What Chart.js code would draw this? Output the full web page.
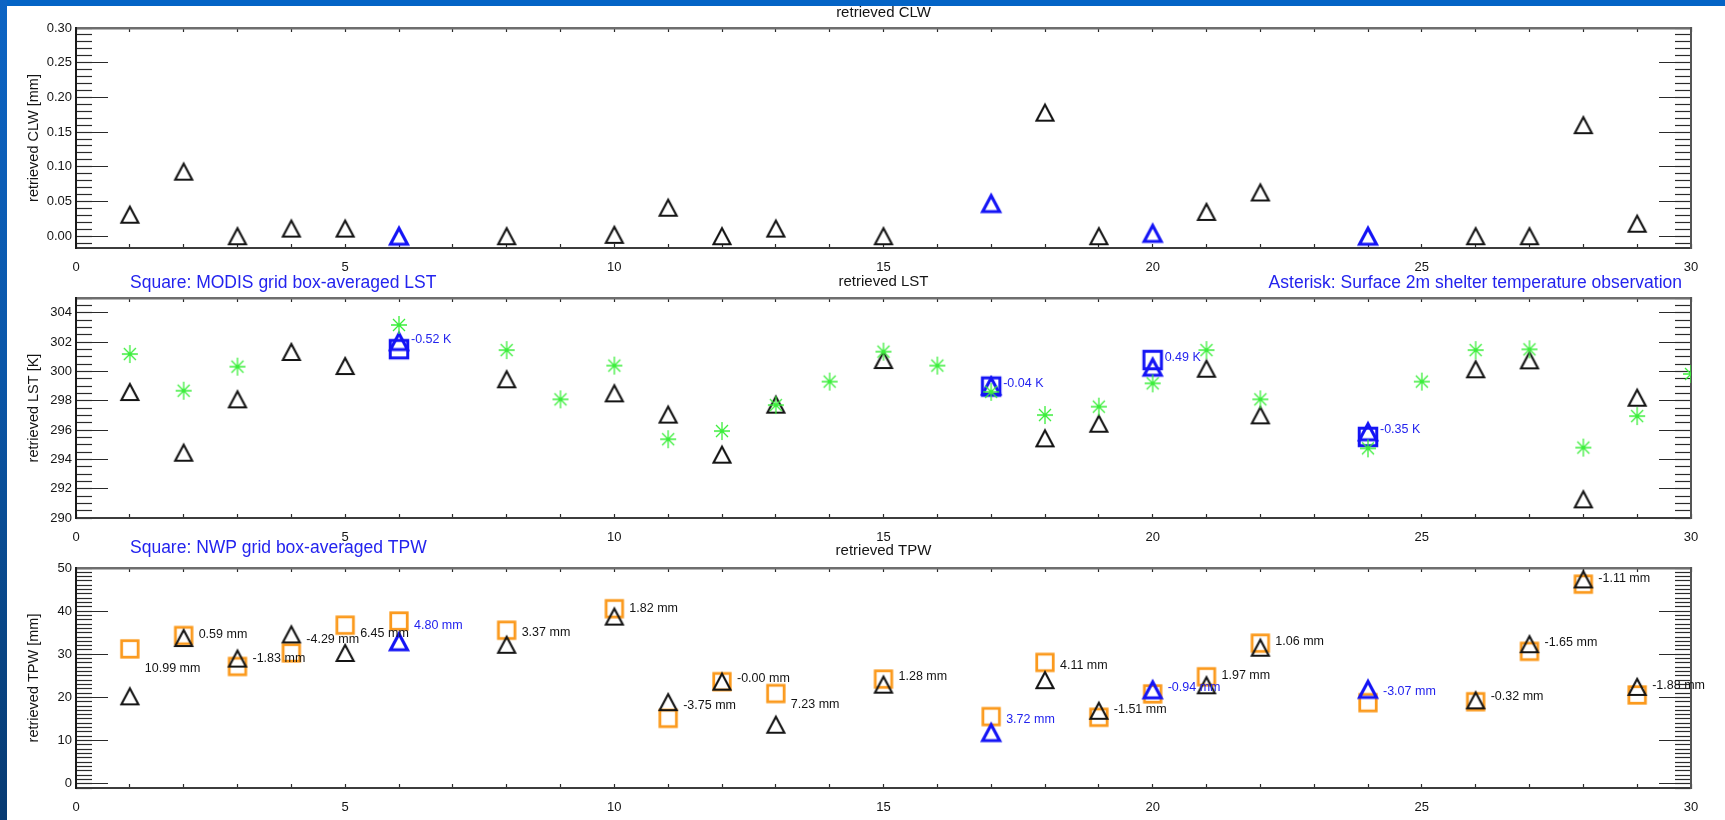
<!DOCTYPE html>
<html>
<head>
<meta charset="utf-8">
<title>Retrieved CLW, LST and TPW</title>
<script src="https://cdn.jsdelivr.net/npm/chart.js@4/dist/chart.umd.min.js"></script>
<style>
  html, body { margin: 0; padding: 0; background: #ffffff; }
  #page { position: relative; width: 1725px; height: 820px; overflow: hidden; background: #ffffff; }
  .panel { position: absolute; left: 0; width: 1725px; height: 280px; }
  .panel canvas { display: block; }
  #topband { position: absolute; left: 0; top: 0; width: 1725px; height: 6px; background: #0464c6; z-index: 5; }
  #leftband { position: absolute; left: 0; top: 0; width: 7px; height: 820px; z-index: 5;
              background: linear-gradient(#0c64c4, #0a56a8 45%, #084483 80%, #073a72); }
</style>
</head>
<body>
<div id="page">
  <div class="panel" style="top:0px"><canvas id="clwChart" width="1725" height="280"></canvas></div>
  <div class="panel" style="top:270px"><canvas id="lstChart" width="1725" height="280"></canvas></div>
  <div class="panel" style="top:540px"><canvas id="tpwChart" width="1725" height="280"></canvas></div>
  <div id="topband"></div>
  <div id="leftband"></div>
</div>
<script>
// ---- tick labels ----
const dayTickLabels = ['0', '5', '10', '15', '20', '25', '30'];
const clwTickLabels = ['0.00', '0.05', '0.10', '0.15', '0.20', '0.25', '0.30'];
const lstTickLabels = ['290', '292', '294', '296', '298', '300', '302', '304'];
const tpwTickLabels = ['0', '10', '20', '30', '40', '50'];

// ---- retrieval days (case number) ----
const retrievalDays = [1, 2, 3, 4, 5, 6, 8, 10, 11, 12, 13, 15, 17, 18, 19, 20, 21, 22, 24, 26, 27, 28, 29];
const modisDays = [6, 17, 20, 24];

// retrieved cloud liquid water [mm]
const retrievedCLW = [0.031, 0.093, 0.000, 0.011, 0.011, 0.000, 0.000, 0.002, 0.041, 0.000, 0.011, 0.000,
                      0.047, 0.178, 0.000, 0.004, 0.035, 0.063, 0.000, 0.000, 0.000, 0.160, 0.018];

// retrieved land surface temperature [K]
const retrievedLST = [298.59, 294.45, 298.09, 301.32, 300.36, 302.03, 299.46, 298.50, 297.05, 294.32, 297.73, 300.77,
                      299.00, 295.43, 296.43, 300.28, 300.18, 297.00, 295.88, 300.14, 300.75, 291.27, 298.20];

// MODIS grid box-averaged LST [K] and its difference label
const modisLST = [301.51, 298.96, 300.77, 295.53];
const lstDiffText = ['-0.52', '-0.04', '0.49', '-0.35'];

// surface 2 m shelter temperature [K]
const shelterDays = [1, 2, 3, 6, 8, 9, 10, 11, 12, 13, 14, 15, 16, 17, 18, 19, 20, 21, 22, 24, 25, 26, 27, 28, 29, 30];
const shelterT = [301.18, 298.68, 300.32, 303.16, 301.45, 298.09, 300.39, 295.37, 295.93, 297.70, 299.30, 301.34, 300.39,
                  298.60, 297.02, 297.59, 299.18, 301.45, 298.09, 294.75, 299.30, 301.45, 301.50, 294.80, 296.95, 299.82];

// retrieved total precipitable water [mm]
const retrievedTPW = [20.25, 33.76, 29.00, 34.60, 30.30, 32.90, 32.20, 38.74, 18.90, 23.65, 13.67, 22.96,
                      11.84, 24.00, 16.90, 21.75, 22.81, 31.52, 21.85, 19.32, 32.33, 47.36, 22.44];
// NWP grid box-averaged TPW [mm]
const nwpTPW = [31.24, 34.35, 27.17, 30.31, 36.75, 37.70, 35.57, 40.56, 15.15, 23.65, 20.90, 24.24,
                15.56, 28.11, 15.39, 20.81, 24.78, 32.58, 18.78, 19.00, 30.68, 46.25, 20.56];
const tpwDiffText = ['10.99', '0.59', '-1.83', '-4.29', '6.45', '4.80', '3.37', '1.82', '-3.75', '-0.00', '7.23', '1.28',
                     '3.72', '4.11', '-1.51', '-0.94', '1.97', '1.06', '-3.07', '-0.32', '-1.65', '-1.11', '-1.88'];
// height [mm] at which each difference note is written
const tpwNoteAt = [26.6, 34.6, 29.1, 33.3, 34.9, 36.6, 35.0, 40.7, 18.1, 24.4, 18.4, 24.8,
                   14.9, 27.3, 17.2, 22.3, 25.0, 32.9, 21.3, 20.3, 32.7, 47.5, 22.7];

// ---- styling ----
const FONT = '"Liberation Sans", Arial, Helvetica, sans-serif';
const INK = '#141414';
const BLUE = '#1414f5';
const TEXT_BLUE = '#2323ee';
const ORANGE = '#fb9a1e';
const GREEN = '#3aee3a';

Chart.defaults.font.family = FONT;

function markerCanvas(size) {
  const c = document.createElement('canvas');
  c.width = size; c.height = size;
  return c;
}
function triangleMarker(color, lw) {
  const c = markerCanvas(24), g = c.getContext('2d');
  g.strokeStyle = color; g.lineWidth = lw; g.lineJoin = 'miter';
  g.beginPath(); g.moveTo(12, 4); g.lineTo(20.5, 20); g.lineTo(3.5, 20); g.closePath(); g.stroke();
  return c;
}
function squareMarker(color, side, lw) {
  const c = markerCanvas(26), g = c.getContext('2d');
  g.strokeStyle = color; g.lineWidth = lw;
  g.strokeRect((26 - side) / 2, (26 - side) / 2, side, side);
  return c;
}
function asteriskMarker(color) {
  const c = markerCanvas(22), g = c.getContext('2d');
  g.strokeStyle = color; g.lineWidth = 1.3; g.lineCap = 'butt';
  g.beginPath();
  g.moveTo(11, 2); g.lineTo(11, 20);
  g.moveTo(3, 11); g.lineTo(19, 11);
  g.moveTo(5, 5); g.lineTo(17, 17);
  g.moveTo(17, 5); g.lineTo(5, 17);
  g.stroke();
  return c;
}
const blackTri = triangleMarker(INK, 2.1);
const blueTri = triangleMarker(BLUE, 3.1);
const orangeSq = squareMarker(ORANGE, 16.5, 2.8);
const blueSq = squareMarker(BLUE, 17.5, 3);
const greenStar = asteriskMarker(GREEN);

function pairs(days, values, keep) {
  return days.map((d, i) => ({ x: d, y: values[i] })).filter(p => !keep || keep(p.x));
}
const isModis = d => modisDays.includes(d);
const notModis = d => !modisDays.includes(d);

function markerSet(data, style) {
  return { data, pointStyle: style, pointRadius: 9, borderWidth: 0, backgroundColor: 'transparent', clip: 0 };
}

function tickGrid(len) {
  return { drawOnChartArea: false, drawTicks: true, tickLength: -len, tickColor: '#2a2a2a', tickWidth: 1.2 };
}
// the axes only carry their own box size; label overhang is absorbed by the layout padding
function fixBox(w, h) {
  return s => {
    if (w !== null) s.width = w;
    if (h !== null) s.height = h;
    s.paddingTop = 0; s.paddingBottom = 0; s.paddingLeft = 0; s.paddingRight = 0;
  };
}

function buildScales(spec) {
  const majors = spec.tickLabels.map(Number);
  const setMajor = s => { s.ticks = majors.map(v => ({ value: v })); };
  const yRange = { type: 'linear', min: spec.min, max: spec.max };
  return {
    x: {
      type: 'linear', position: 'bottom', min: 0, max: 30,
      ticks: { stepSize: 1, autoSkip: false, maxRotation: 0, minRotation: 0, padding: 16, color: INK,
               font: { size: 13 }, callback: v => dayTickLabels.includes(String(v)) ? String(v) : '' },
      grid: tickGrid(4),
      border: { display: true, color: '#3c3c3c', width: 2 },
      afterFit: fixBox(null, 32)
    },
    xTop: {
      type: 'linear', position: 'top', min: 0, max: 30,
      ticks: { display: false, stepSize: 1, autoSkip: false },
      grid: tickGrid(4),
      border: { display: true, color: '#6e6e6e', width: 2.5 },
      afterFit: fixBox(null, 0)
    },
    y: {
      ...yRange, position: 'left', weight: 1,
      afterBuildTicks: setMajor,
      ticks: { padding: 36, color: INK, font: { size: 13 }, callback: (v, i) => spec.tickLabels[i] },
      grid: tickGrid(32),
      border: { display: true, color: '#1a1a1a', width: 2 },
      title: { display: true, text: spec.axisTitle, color: INK, font: { size: 14.5 }, padding: { top: 25.5, bottom: 0 } },
      afterFit: fixBox(76, null)
    },
    yMinor: {
      ...yRange, position: 'left', weight: 0,
      ticks: { display: false, stepSize: spec.minorStep, includeBounds: false },
      grid: tickGrid(16),
      border: { display: false },
      afterFit: fixBox(0, null)
    },
    yRight: {
      ...yRange, position: 'right', weight: 0,
      afterBuildTicks: setMajor,
      ticks: { display: false },
      grid: tickGrid(32),
      border: { display: true, color: '#555555', width: 2 },
      afterFit: fixBox(0, null)
    },
    yRightMinor: {
      ...yRange, position: 'right', weight: 1,
      ticks: { display: false, stepSize: spec.minorStep, includeBounds: false },
      grid: tickGrid(16),
      border: { display: false },
      afterFit: fixBox(0, null)
    }
  };
}

// headings, captions and difference notes, placed through the chart's scales
function textLayer(spec) {
  return {
    id: 'textLayer',
    afterDraw(chart) {
      const { ctx, chartArea: a } = chart;
      const xs = chart.scales.x, ys = chart.scales.y;
      ctx.save();
      ctx.textBaseline = 'middle';
      ctx.font = '15px ' + FONT;
      ctx.fillStyle = INK;
      ctx.textAlign = 'center';
      ctx.fillText(spec.heading, (a.left + a.right) / 2, a.top + spec.headingDy);
      ctx.font = '17.5px ' + FONT;
      ctx.fillStyle = TEXT_BLUE;
      (spec.captions || []).forEach(c => {
        ctx.textAlign = c.align;
        const x = c.align === 'left' ? a.left + c.dx : a.right + c.dx;
        ctx.fillText(c.text, x, a.top + c.dy);
      });
      ctx.font = '12.5px ' + FONT;
      ctx.textAlign = 'left';
      (spec.notes || []).forEach(n => {
        ctx.fillStyle = n.color;
        ctx.fillText(n.text, xs.getPixelForValue(n.x) + n.dx, ys.getPixelForValue(n.y) + (n.dy || 0));
      });
      ctx.restore();
    }
  };
}

function makeChart(id, spec, datasets) {
  return new Chart(document.getElementById(id), {
    type: 'scatter',
    data: { datasets: datasets.map(d => ({ ...d, xAxisID: 'x', yAxisID: 'y' })) },
    options: {
      responsive: false,
      animation: false,
      events: [],
      layout: { padding: { left: 0, right: 34, top: 28, bottom: 0 } },
      plugins: { legend: { display: false }, tooltip: { enabled: false } },
      scales: buildScales(spec)
    },
    plugins: [textLayer(spec)]
  });
}

// ---- retrieved CLW ----
makeChart('clwChart', {
  heading: 'retrieved CLW', headingDy: -14.7, axisTitle: 'retrieved CLW [mm]',
  min: -0.017, max: 0.30, minorStep: 0.01, tickLabels: clwTickLabels
}, [
  markerSet(pairs(retrievalDays, retrievedCLW, isModis), blueTri),
  markerSet(pairs(retrievalDays, retrievedCLW, notModis), blackTri)
]);

// ---- retrieved LST ----
const lstNotes = modisDays.map((d, i) => {
  const j = retrievalDays.indexOf(d);
  return { x: d, y: Math.max(retrievedLST[j], modisLST[i]), text: lstDiffText[i] + ' K', color: TEXT_BLUE, dx: 12, dy: -2 };
});
makeChart('lstChart', {
  heading: 'retrieved LST', headingDy: -16.5, axisTitle: 'retrieved LST [K]',
  min: 290, max: 305, minorStep: 0.5, tickLabels: lstTickLabels,
  captions: [
    { text: 'Square: MODIS grid box-averaged LST', align: 'left', dx: 54, dy: -15 },
    { text: 'Asterisk: Surface 2m shelter temperature observation', align: 'right', dx: -9, dy: -15 }
  ],
  notes: lstNotes
}, [
  markerSet(pairs(shelterDays, shelterT), greenStar),
  markerSet(pairs(retrievalDays, retrievedLST, isModis), blueTri),
  markerSet(pairs(retrievalDays, retrievedLST, notModis), blackTri),
  markerSet(pairs(modisDays, modisLST), blueSq)
]);

// ---- retrieved TPW ----
const tpwNotes = retrievalDays.map((d, i) => ({
  x: d, y: tpwNoteAt[i], text: tpwDiffText[i] + ' mm', color: isModis(d) ? TEXT_BLUE : INK, dx: 15
}));
makeChart('tpwChart', {
  heading: 'retrieved TPW', headingDy: -17.5, axisTitle: 'retrieved TPW [mm]',
  min: -1, max: 50, minorStep: 1, tickLabels: tpwTickLabels,
  captions: [
    { text: 'Square: NWP grid box-averaged TPW', align: 'left', dx: 54, dy: -20 }
  ],
  notes: tpwNotes
}, [
  markerSet(pairs(retrievalDays, retrievedTPW, isModis), blueTri),
  markerSet(pairs(retrievalDays, retrievedTPW, notModis), blackTri),
  markerSet(pairs(retrievalDays, nwpTPW), orangeSq)
]);
</script>
</body>
</html>
